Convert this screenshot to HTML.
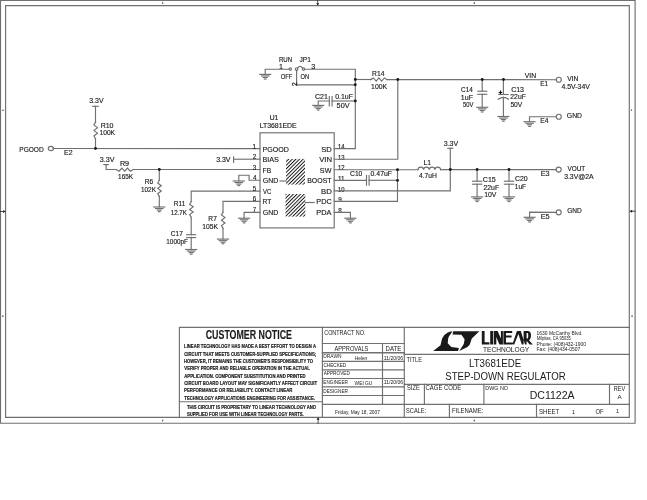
<!DOCTYPE html>
<html><head><meta charset="utf-8"><style>
html,body{margin:0;padding:0;background:#fff;}
svg{display:block;will-change:transform;}
text{font-family:"Liberation Sans",sans-serif;fill:#1a1a1a;stroke:#1a1a1a;stroke-width:0.25px;}
</style></head><body>
<svg width="647" height="500" viewBox="0 0 647 500">
<rect width="647" height="500" fill="#fff"/>
<g fill="none" stroke="#707070" stroke-width="1.15" stroke-linecap="square" stroke-linejoin="miter">
<polyline points="0.50,0.50 635.10,0.50 635.10,423.20 0.50,423.20 0.50,0.50"/>
<polyline points="5.60,5.60 629.30,5.60 629.30,417.30 5.60,417.30 5.60,5.60"/>
<g fill="#555" stroke="none">
<rect x="162" y="2.2" width="1.2" height="1.6"/>
<rect x="473.6" y="2.2" width="1.4" height="1.6"/>
<rect x="162" y="419.7" width="1.2" height="1.6"/>
<rect x="473.6" y="419.7" width="1.4" height="1.6"/>
<rect x="2.3" y="109.6" width="1.4" height="1.4"/>
<rect x="630.9" y="109.4" width="1.2" height="1.4"/>
<rect x="2.2" y="315.4" width="1.3" height="1.6"/>
<rect x="631.4" y="315.4" width="1.3" height="1.6"/>
</g>
<g fill="#1a1a1a" stroke="none">
<path d="M316.2,3.2 L319.2,3.2 L317.7,5.6 Z"/>
<path d="M316.6,419.7 L319.6,419.7 L318.1,417.3 Z"/>
<path d="M3.2,210 L3.2,213 L5.6,211.5 Z"/>
<path d="M632.2,209.7 L632.2,212.7 L629.6,211.2 Z"/>
</g>
<polyline points="317.70,0.50 317.70,4.50" stroke-width="0.8" stroke="#222"/>
<polyline points="318.10,423.20 318.10,419.00" stroke-width="0.8" stroke="#222"/>
<polyline points="0.50,211.50 4.00,211.50" stroke-width="0.8" stroke="#222"/>
<polyline points="635.10,211.20 631.00,211.20" stroke-width="0.8" stroke="#222"/>
<text x="19.26" y="151.65" font-size="7.20" textLength="24.45" lengthAdjust="spacingAndGlyphs" style="stroke-width:0.15px">PGOOD</text>
<ellipse cx="50.9" cy="148.5" rx="2.6" ry="2.1" fill="none"/>
<polyline points="53.10,148.50 260.00,148.60"/>
<text x="64.03" y="154.85" font-size="7.20" textLength="8.52" lengthAdjust="spacingAndGlyphs" style="stroke-width:0.15px">E2</text>
<text x="89.24" y="102.95" font-size="7.20" textLength="14.30" lengthAdjust="spacingAndGlyphs" style="stroke-width:0.15px">3.3V</text>
<polyline points="92.75,106.30 98.25,106.30"/>
<polyline points="95.50,106.30 95.50,122.10"/>
<polyline points="95.50,122.10 93.92,124.87 97.50,127.63 93.92,130.40 97.50,133.17 93.92,135.93 95.50,138.70"/>
<polyline points="95.50,138.70 95.50,148.50"/>
<text x="100.63" y="127.95" font-size="7.20" textLength="12.85" lengthAdjust="spacingAndGlyphs" style="stroke-width:0.15px">R10</text>
<text x="99.49" y="134.75" font-size="7.20" textLength="15.58" lengthAdjust="spacingAndGlyphs" style="stroke-width:0.15px">100K</text>
<text x="99.83" y="162.05" font-size="7.20" textLength="14.70" lengthAdjust="spacingAndGlyphs" style="stroke-width:0.15px">3.3V</text>
<polyline points="103.85,164.60 108.35,164.60"/>
<polyline points="106.10,164.60 106.10,169.50 116.20,169.50"/>
<polyline points="116.20,169.60 119.02,171.20 121.83,168.00 124.65,171.20 127.47,168.00 130.28,171.20 133.10,169.60"/>
<polyline points="133.10,169.50 260.00,169.50"/>
<text x="119.91" y="165.65" font-size="7.20" textLength="9.23" lengthAdjust="spacingAndGlyphs" style="stroke-width:0.15px">R9</text>
<text x="118.11" y="178.65" font-size="7.20" textLength="15.06" lengthAdjust="spacingAndGlyphs" style="stroke-width:0.15px">165K</text>
<polyline points="159.30,169.50 159.30,180.30"/>
<polyline points="159.30,180.30 157.72,182.98 161.30,185.67 157.72,188.35 161.30,191.03 157.72,193.72 159.30,196.40"/>
<polyline points="159.30,196.40 159.30,206.70"/>
<polyline points="153.80,207.00 164.80,207.00"/>
<polyline points="155.56,208.55 163.04,208.55"/>
<polyline points="157.32,210.10 161.28,210.10"/>
<polyline points="158.48,211.65 160.12,211.65"/>
<text x="144.66" y="184.25" font-size="7.20" textLength="8.43" lengthAdjust="spacingAndGlyphs" style="stroke-width:0.15px">R6</text>
<text x="141.01" y="191.65" font-size="7.20" textLength="14.96" lengthAdjust="spacingAndGlyphs" style="stroke-width:0.15px">102K</text>
<polyline points="260.00,191.10 191.20,191.10 191.20,201.70"/>
<polyline points="191.20,201.70 189.62,204.28 193.20,206.87 189.62,209.45 193.20,212.03 189.62,214.62 191.20,217.20"/>
<polyline points="191.20,217.20 191.20,234.70"/>
<polyline points="186.60,234.70 195.60,234.70"/>
<polyline points="186.60,237.60 195.60,237.60"/>
<polyline points="191.20,237.40 191.20,249.20"/>
<polyline points="185.70,249.50 196.70,249.50"/>
<polyline points="187.46,251.05 194.94,251.05"/>
<polyline points="189.22,252.60 193.18,252.60"/>
<polyline points="190.38,254.15 192.02,254.15"/>
<text x="173.78" y="206.35" font-size="7.20" textLength="11.52" lengthAdjust="spacingAndGlyphs" style="stroke-width:0.15px">R11</text>
<text x="170.73" y="214.95" font-size="7.20" textLength="16.14" lengthAdjust="spacingAndGlyphs" style="stroke-width:0.15px">12.7K</text>
<text x="170.87" y="236.05" font-size="7.20" textLength="12.06" lengthAdjust="spacingAndGlyphs" style="stroke-width:0.15px">C17</text>
<text x="166.31" y="244.05" font-size="7.20" textLength="21.75" lengthAdjust="spacingAndGlyphs" style="stroke-width:0.15px">1000pF</text>
<polyline points="260.00,201.30 223.00,201.30 223.00,212.20"/>
<polyline points="223.00,212.20 221.42,214.88 225.00,217.57 221.42,220.25 225.00,222.93 221.42,225.62 223.00,228.30"/>
<polyline points="223.00,228.30 223.00,238.80"/>
<polyline points="217.50,239.10 228.50,239.10"/>
<polyline points="219.26,240.65 226.74,240.65"/>
<polyline points="221.02,242.20 224.98,242.20"/>
<polyline points="222.18,243.75 223.82,243.75"/>
<text x="208.36" y="220.65" font-size="7.20" textLength="8.48" lengthAdjust="spacingAndGlyphs" style="stroke-width:0.15px">R7</text>
<text x="202.19" y="228.65" font-size="7.20" textLength="15.69" lengthAdjust="spacingAndGlyphs" style="stroke-width:0.15px">105K</text>
<text x="216.13" y="162.05" font-size="7.20" textLength="14.40" lengthAdjust="spacingAndGlyphs" style="stroke-width:0.15px">3.3V</text>
<polyline points="233.60,156.70 233.60,162.30"/>
<polyline points="233.60,159.20 260.00,159.20"/>
<polyline points="260.00,180.20 249.10,180.20 249.10,175.20 238.80,175.20 238.80,180.70"/>
<polyline points="233.30,181.00 244.30,181.00"/>
<polyline points="235.06,182.55 242.54,182.55"/>
<polyline points="236.82,184.10 240.78,184.10"/>
<polyline points="237.98,185.65 239.62,185.65"/>
<polyline points="260.00,212.30 244.10,212.30 244.10,217.90"/>
<polyline points="238.60,218.20 249.60,218.20"/>
<polyline points="240.36,219.75 247.84,219.75"/>
<polyline points="242.12,221.30 246.08,221.30"/>
<polyline points="243.28,222.85 244.92,222.85"/>
<text x="269.68" y="119.85" font-size="7.20" textLength="8.65" lengthAdjust="spacingAndGlyphs" style="stroke-width:0.15px">U1</text>
<text x="259.64" y="128.25" font-size="7.20" textLength="37.05" lengthAdjust="spacingAndGlyphs" style="stroke-width:0.15px">LT3681EDE</text>
<rect x="260.0" y="132.8" width="74.2" height="95.1" fill="none"/>
<text x="252.62" y="148.75" font-size="6.30" textLength="3.50" lengthAdjust="spacingAndGlyphs" style="stroke-width:0.15px">1</text>
<text x="262.52" y="151.75" font-size="7.70" textLength="26.32" lengthAdjust="spacingAndGlyphs" style="stroke-width:0.15px">PGOOD</text>
<text x="252.78" y="159.35" font-size="6.30" textLength="3.50" lengthAdjust="spacingAndGlyphs" style="stroke-width:0.15px">2</text>
<text x="262.51" y="162.35" font-size="7.70" textLength="16.42" lengthAdjust="spacingAndGlyphs" style="stroke-width:0.15px">BIAS</text>
<text x="252.86" y="169.75" font-size="6.30" textLength="3.50" lengthAdjust="spacingAndGlyphs" style="stroke-width:0.15px">3</text>
<text x="262.55" y="172.75" font-size="7.70" textLength="8.61" lengthAdjust="spacingAndGlyphs" style="stroke-width:0.15px">FB</text>
<text x="252.96" y="180.35" font-size="6.30" textLength="3.50" lengthAdjust="spacingAndGlyphs" style="stroke-width:0.15px">4</text>
<text x="262.75" y="183.35" font-size="7.70" textLength="15.59" lengthAdjust="spacingAndGlyphs" style="stroke-width:0.15px">GND</text>
<text x="252.85" y="191.25" font-size="6.30" textLength="3.50" lengthAdjust="spacingAndGlyphs" style="stroke-width:0.15px">5</text>
<text x="263.07" y="194.25" font-size="7.70" textLength="8.25" lengthAdjust="spacingAndGlyphs" style="stroke-width:0.15px">VC</text>
<text x="252.78" y="201.45" font-size="6.30" textLength="3.50" lengthAdjust="spacingAndGlyphs" style="stroke-width:0.15px">6</text>
<text x="262.57" y="204.45" font-size="7.70" textLength="8.68" lengthAdjust="spacingAndGlyphs" style="stroke-width:0.15px">RT</text>
<text x="252.78" y="212.45" font-size="6.30" textLength="3.50" lengthAdjust="spacingAndGlyphs" style="stroke-width:0.15px">7</text>
<text x="262.75" y="215.45" font-size="7.70" textLength="15.59" lengthAdjust="spacingAndGlyphs" style="stroke-width:0.15px">GND</text>
<text x="338.05" y="149.15" font-size="6.30" textLength="6.52" lengthAdjust="spacingAndGlyphs" style="stroke-width:0.15px">14</text>
<text x="321.26" y="151.75" font-size="7.70" textLength="10.51" lengthAdjust="spacingAndGlyphs" style="stroke-width:0.15px">SD</text>
<text x="338.05" y="159.75" font-size="6.30" textLength="6.61" lengthAdjust="spacingAndGlyphs" style="stroke-width:0.15px">13</text>
<text x="319.17" y="162.35" font-size="7.70" textLength="12.86" lengthAdjust="spacingAndGlyphs" style="stroke-width:0.15px">VIN</text>
<text x="338.04" y="170.15" font-size="6.30" textLength="6.66" lengthAdjust="spacingAndGlyphs" style="stroke-width:0.15px">12</text>
<text x="319.87" y="172.75" font-size="7.70" textLength="11.55" lengthAdjust="spacingAndGlyphs" style="stroke-width:0.15px">SW</text>
<text x="338.04" y="180.75" font-size="6.30" textLength="6.65" lengthAdjust="spacingAndGlyphs" style="stroke-width:0.15px">11</text>
<text x="307.23" y="183.35" font-size="7.70" textLength="24.33" lengthAdjust="spacingAndGlyphs" style="stroke-width:0.15px">BOOST</text>
<text x="338.05" y="191.65" font-size="6.30" textLength="6.58" lengthAdjust="spacingAndGlyphs" style="stroke-width:0.15px">10</text>
<text x="320.96" y="194.25" font-size="7.70" textLength="10.81" lengthAdjust="spacingAndGlyphs" style="stroke-width:0.15px">BD</text>
<text x="338.20" y="201.85" font-size="6.30" textLength="3.50" lengthAdjust="spacingAndGlyphs" style="stroke-width:0.15px">9</text>
<text x="316.30" y="204.45" font-size="7.70" textLength="15.37" lengthAdjust="spacingAndGlyphs" style="stroke-width:0.15px">PDC</text>
<text x="338.23" y="212.85" font-size="6.30" textLength="3.50" lengthAdjust="spacingAndGlyphs" style="stroke-width:0.15px">8</text>
<text x="316.30" y="215.45" font-size="7.70" textLength="15.12" lengthAdjust="spacingAndGlyphs" style="stroke-width:0.15px">PDA</text>
<defs><pattern id="h" patternUnits="userSpaceOnUse" width="2.55" height="2.55" patternTransform="rotate(45)"><rect x="0" y="0" width="0.95" height="2.55" fill="#111" stroke="none"/></pattern></defs>
<rect x="286.1" y="158.9" width="18.9" height="25.7" fill="url(#h)" stroke="none"/>
<rect x="285.5" y="194.0" width="19.8" height="22.6" fill="url(#h)" stroke="none"/>
<polyline points="280.00,181.00 286.10,181.00"/>
<polyline points="305.30,202.50 314.20,202.50"/>
<polyline points="334.20,212.30 350.40,212.30 350.40,217.90"/>
<polyline points="344.90,218.20 355.90,218.20"/>
<polyline points="346.66,219.75 354.14,219.75"/>
<polyline points="348.42,221.30 352.38,221.30"/>
<polyline points="349.57,222.85 351.22,222.85"/>
<polyline points="334.20,148.60 355.30,148.60 355.30,69.20 304.70,69.20"/>
<polyline points="259.70,74.40 270.70,74.40"/>
<polyline points="261.46,75.95 268.94,75.95"/>
<polyline points="263.22,77.50 267.18,77.50"/>
<polyline points="264.38,79.05 266.02,79.05"/>
<polyline points="265.20,74.10 265.20,69.20 289.10,69.20"/>
<circle cx="290.3" cy="69.1" r="1.2" fill="none"/>
<circle cx="296.6" cy="69.1" r="1.3" fill="none"/>
<circle cx="303.5" cy="69.1" r="1.2" fill="none"/>
<path d="M297.7,67.9 Q300.0,64.8 302.4,67.9" fill="none"/>
<polyline points="296.60,70.40 296.60,84.80 355.30,84.80"/>
<text x="278.90" y="61.65" font-size="7.20" textLength="13.30" lengthAdjust="spacingAndGlyphs" style="stroke-width:0.15px">RUN</text>
<text x="299.40" y="61.65" font-size="7.20" textLength="11.43" lengthAdjust="spacingAndGlyphs" style="stroke-width:0.15px">JP1</text>
<text x="279.05" y="68.65" font-size="7.20" textLength="4.00" lengthAdjust="spacingAndGlyphs" style="stroke-width:0.15px">1</text>
<text x="311.23" y="69.15" font-size="7.20" textLength="4.00" lengthAdjust="spacingAndGlyphs" style="stroke-width:0.15px">3</text>
<text x="280.72" y="78.65" font-size="7.20" textLength="11.71" lengthAdjust="spacingAndGlyphs" style="stroke-width:0.15px">OFF</text>
<text x="300.43" y="78.65" font-size="7.20" textLength="8.64" lengthAdjust="spacingAndGlyphs" style="stroke-width:0.15px">ON</text>
<text transform="translate(297.2,86.0) rotate(-90)" font-size="6.8">2</text>
<polyline points="355.30,101.00 332.10,101.00"/>
<polyline points="329.30,96.65 329.30,105.95"/>
<polyline points="332.10,96.65 332.10,105.95"/>
<polyline points="329.30,101.00 318.20,101.00 318.20,105.10"/>
<polyline points="312.70,105.40 323.70,105.40"/>
<polyline points="314.46,106.95 321.94,106.95"/>
<polyline points="316.22,108.50 320.18,108.50"/>
<polyline points="317.38,110.05 319.02,110.05"/>
<text x="315.04" y="99.15" font-size="7.20" textLength="12.90" lengthAdjust="spacingAndGlyphs" style="stroke-width:0.15px">C21</text>
<text x="335.13" y="99.15" font-size="7.20" textLength="17.85" lengthAdjust="spacingAndGlyphs" style="stroke-width:0.15px">0.1uF</text>
<text x="336.61" y="108.45" font-size="7.20" textLength="12.92" lengthAdjust="spacingAndGlyphs" style="stroke-width:0.15px">50V</text>
<polyline points="355.30,79.50 371.40,79.50"/>
<polyline points="370.70,79.60 373.43,78.00 376.17,81.20 378.90,78.00 381.63,81.20 384.37,78.00 387.10,79.60"/>
<polyline points="387.20,79.60 556.30,79.70"/>
<text x="372.05" y="75.95" font-size="7.20" textLength="12.35" lengthAdjust="spacingAndGlyphs" style="stroke-width:0.15px">R14</text>
<text x="371.08" y="88.95" font-size="7.20" textLength="16.00" lengthAdjust="spacingAndGlyphs" style="stroke-width:0.15px">100K</text>
<polyline points="397.80,79.50 397.80,159.20 334.20,159.20"/>
<polyline points="482.20,79.50 482.20,91.20"/>
<polyline points="477.85,91.20 486.75,91.20"/>
<polyline points="477.85,94.30 486.75,94.30"/>
<polyline points="482.20,94.30 482.20,107.00"/>
<polyline points="476.70,107.30 487.70,107.30"/>
<polyline points="478.46,108.85 485.94,108.85"/>
<polyline points="480.22,110.40 484.18,110.40"/>
<polyline points="481.38,111.95 483.02,111.95"/>
<text x="461.07" y="91.75" font-size="7.20" textLength="11.82" lengthAdjust="spacingAndGlyphs" style="stroke-width:0.15px">C14</text>
<text x="460.86" y="99.55" font-size="7.20" textLength="12.12" lengthAdjust="spacingAndGlyphs" style="stroke-width:0.15px">1uF</text>
<text x="462.97" y="106.65" font-size="7.20" textLength="10.36" lengthAdjust="spacingAndGlyphs" style="stroke-width:0.15px">50V</text>
<polyline points="503.40,79.50 503.40,94.50"/>
<polyline points="498.80,94.50 508.20,94.50"/>
<path d="M498.1,99.2 Q503.4,95.6 508.5,99.3" fill="none"/>
<polyline points="503.40,97.40 503.40,116.20"/>
<polyline points="497.90,116.50 508.90,116.50"/>
<polyline points="499.66,118.05 507.14,118.05"/>
<polyline points="501.42,119.60 505.38,119.60"/>
<polyline points="502.57,121.15 504.22,121.15"/>
<path d="M498.6,92.5 L502.2,92.5 M500.5,90.6 L500.5,94.3" stroke="#111" stroke-width="1.2" stroke-linecap="butt"/>
<text x="511.14" y="91.75" font-size="7.20" textLength="12.86" lengthAdjust="spacingAndGlyphs" style="stroke-width:0.15px">C13</text>
<text x="510.36" y="99.15" font-size="7.20" textLength="15.41" lengthAdjust="spacingAndGlyphs" style="stroke-width:0.15px">22uF</text>
<text x="510.43" y="106.65" font-size="7.20" textLength="11.79" lengthAdjust="spacingAndGlyphs" style="stroke-width:0.15px">50V</text>
<text x="524.77" y="77.85" font-size="7.20" textLength="11.39" lengthAdjust="spacingAndGlyphs" style="stroke-width:0.15px">VIN</text>
<text x="540.27" y="85.95" font-size="7.20" textLength="7.84" lengthAdjust="spacingAndGlyphs" style="stroke-width:0.15px">E1</text>
<circle cx="558.8" cy="79.7" r="2.5" fill="none"/>
<text x="567.17" y="80.95" font-size="7.20" textLength="11.18" lengthAdjust="spacingAndGlyphs" style="stroke-width:0.15px">VIN</text>
<text x="561.44" y="89.35" font-size="7.20" textLength="28.49" lengthAdjust="spacingAndGlyphs" style="stroke-width:0.15px">4.5V-34V</text>
<polyline points="529.50,121.40 529.50,116.70 556.30,116.70"/>
<polyline points="524.00,121.70 535.00,121.70"/>
<polyline points="525.76,123.25 533.24,123.25"/>
<polyline points="527.52,124.80 531.48,124.80"/>
<polyline points="528.67,126.35 530.33,126.35"/>
<text x="540.25" y="122.75" font-size="7.20" textLength="8.14" lengthAdjust="spacingAndGlyphs" style="stroke-width:0.15px">E4</text>
<circle cx="558.8" cy="116.7" r="2.5" fill="none"/>
<text x="566.86" y="118.05" font-size="7.20" textLength="15.07" lengthAdjust="spacingAndGlyphs" style="stroke-width:0.15px">GND</text>
<polyline points="334.20,169.70 417.90,169.70"/>
<path d="M417.90,169.70 C418.18,166.32 423.29,166.32 423.57,169.70 C423.86,166.32 428.97,166.32 429.25,169.70 C429.53,166.32 434.64,166.32 434.93,169.70 C435.21,166.32 440.32,166.32 440.60,169.70" fill="none"/>
<polyline points="440.60,169.60 556.20,169.60"/>
<polyline points="334.20,180.30 366.50,180.30"/>
<polyline points="366.50,175.45 366.50,185.15"/>
<polyline points="369.10,175.45 369.10,185.15"/>
<polyline points="369.10,180.30 397.50,180.30"/>
<polyline points="397.50,169.70 397.50,201.30 334.20,201.30"/>
<text x="350.06" y="176.35" font-size="7.20" textLength="12.30" lengthAdjust="spacingAndGlyphs" style="stroke-width:0.15px">C10</text>
<text x="370.53" y="176.35" font-size="7.20" textLength="21.55" lengthAdjust="spacingAndGlyphs" style="stroke-width:0.15px">0.47uF</text>
<text x="423.54" y="165.25" font-size="7.20" textLength="7.59" lengthAdjust="spacingAndGlyphs" style="stroke-width:0.15px">L1</text>
<text x="418.95" y="178.25" font-size="7.20" textLength="17.90" lengthAdjust="spacingAndGlyphs" style="stroke-width:0.15px">4.7uH</text>
<polyline points="334.20,190.80 450.30,190.80 450.30,148.30"/>
<polyline points="447.80,148.30 452.80,148.30"/>
<text x="443.73" y="146.05" font-size="7.20" textLength="14.50" lengthAdjust="spacingAndGlyphs" style="stroke-width:0.15px">3.3V</text>
<polyline points="477.10,169.50 477.10,181.20"/>
<polyline points="472.50,181.20 481.70,181.20"/>
<polyline points="472.50,184.20 481.70,184.20"/>
<polyline points="477.10,184.20 477.10,196.60"/>
<polyline points="471.60,196.90 482.60,196.90"/>
<polyline points="473.36,198.45 480.84,198.45"/>
<polyline points="475.12,200.00 479.08,200.00"/>
<polyline points="476.28,201.55 477.93,201.55"/>
<polyline points="509.00,169.50 509.00,181.20"/>
<polyline points="504.40,181.20 513.60,181.20"/>
<polyline points="504.40,184.20 513.60,184.20"/>
<polyline points="509.00,184.20 509.00,196.60"/>
<polyline points="503.50,196.90 514.50,196.90"/>
<polyline points="505.26,198.45 512.74,198.45"/>
<polyline points="507.02,200.00 510.98,200.00"/>
<polyline points="508.18,201.55 509.82,201.55"/>
<text x="482.84" y="182.35" font-size="7.20" textLength="12.96" lengthAdjust="spacingAndGlyphs" style="stroke-width:0.15px">C15</text>
<text x="483.46" y="189.75" font-size="7.20" textLength="15.62" lengthAdjust="spacingAndGlyphs" style="stroke-width:0.15px">22uF</text>
<text x="484.18" y="197.15" font-size="7.20" textLength="12.25" lengthAdjust="spacingAndGlyphs" style="stroke-width:0.15px">10V</text>
<text x="514.95" y="181.35" font-size="7.20" textLength="12.72" lengthAdjust="spacingAndGlyphs" style="stroke-width:0.15px">C20</text>
<text x="514.80" y="188.85" font-size="7.20" textLength="11.26" lengthAdjust="spacingAndGlyphs" style="stroke-width:0.15px">1uF</text>
<text x="540.70" y="175.85" font-size="7.20" textLength="8.92" lengthAdjust="spacingAndGlyphs" style="stroke-width:0.15px">E3</text>
<circle cx="558.7" cy="169.6" r="2.5" fill="none"/>
<text x="567.47" y="170.95" font-size="7.20" textLength="17.77" lengthAdjust="spacingAndGlyphs" style="stroke-width:0.15px">VOUT</text>
<text x="564.14" y="179.35" font-size="7.20" textLength="29.47" lengthAdjust="spacingAndGlyphs" style="stroke-width:0.15px">3.3V@2A</text>
<polyline points="529.60,217.00 529.60,212.20 556.20,212.30"/>
<polyline points="524.10,217.30 535.10,217.30"/>
<polyline points="525.86,218.85 533.34,218.85"/>
<polyline points="527.62,220.40 531.58,220.40"/>
<polyline points="528.77,221.95 530.43,221.95"/>
<text x="540.70" y="218.55" font-size="7.20" textLength="8.90" lengthAdjust="spacingAndGlyphs" style="stroke-width:0.15px">E5</text>
<circle cx="558.7" cy="212.3" r="2.5" fill="none"/>
<text x="567.17" y="213.15" font-size="7.20" textLength="14.54" lengthAdjust="spacingAndGlyphs" style="stroke-width:0.15px">GND</text>
<polyline points="179.40,417.30 179.40,327.40 629.30,327.40"/>
<polyline points="322.40,327.40 322.40,417.30"/>
<polyline points="404.30,327.40 404.30,417.30"/>
<polyline points="179.40,401.70 322.40,401.70"/>
<polyline points="322.40,343.50 404.30,343.50"/>
<polyline points="322.40,352.80 404.30,352.80" stroke-width="1.4"/>
<polyline points="322.40,361.40 404.30,361.40"/>
<polyline points="322.40,369.90 404.30,369.90"/>
<polyline points="322.40,378.50 404.30,378.50"/>
<polyline points="322.40,386.80 404.30,386.80"/>
<polyline points="322.40,395.50 404.30,395.50"/>
<polyline points="322.40,404.30 404.30,404.30"/>
<polyline points="382.50,343.50 382.50,404.30"/>
<polyline points="404.30,354.30 629.30,354.30"/>
<polyline points="404.30,384.30 629.30,384.30"/>
<polyline points="404.30,404.30 629.30,404.30"/>
<polyline points="424.40,384.30 424.40,404.30"/>
<polyline points="483.90,384.30 483.90,404.30"/>
<polyline points="609.50,384.30 609.50,404.30"/>
<polyline points="449.40,404.30 449.40,417.30"/>
<polyline points="536.50,404.30 536.50,417.30"/>
<text x="205.74" y="338.95" font-size="11.92" textLength="86.21" lengthAdjust="spacingAndGlyphs" font-weight="bold" style="stroke-width:0.15px">CUSTOMER NOTICE</text>
<text x="184.12" y="348.25" font-size="5.81" textLength="131.79" lengthAdjust="spacingAndGlyphs" font-weight="bold" style="stroke-width:0.2px">LINEAR TECHNOLOGY HAS MADE A BEST EFFORT TO DESIGN A</text>
<text x="184.23" y="355.65" font-size="5.81" textLength="131.98" lengthAdjust="spacingAndGlyphs" font-weight="bold" style="stroke-width:0.2px">CIRCUIT THAT MEETS CUSTOMER-SUPPLIED SPECIFICATIONS;</text>
<text x="184.12" y="363.05" font-size="5.81" textLength="128.85" lengthAdjust="spacingAndGlyphs" font-weight="bold" style="stroke-width:0.2px">HOWEVER, IT REMAINS THE CUSTOMER'S RESPONSIBILITY TO</text>
<text x="184.37" y="370.25" font-size="5.81" textLength="125.46" lengthAdjust="spacingAndGlyphs" font-weight="bold" style="stroke-width:0.2px">VERIFY PROPER AND RELIABLE OPERATION IN THE ACTUAL</text>
<text x="184.30" y="377.85" font-size="5.81" textLength="121.28" lengthAdjust="spacingAndGlyphs" font-weight="bold" style="stroke-width:0.2px">APPLICATION.  COMPONENT SUBSTITUTION AND PRINTED</text>
<text x="184.23" y="385.05" font-size="5.81" textLength="132.92" lengthAdjust="spacingAndGlyphs" font-weight="bold" style="stroke-width:0.2px">CIRCUIT BOARD LAYOUT MAY SIGNIFICANTLY AFFECT CIRCUIT</text>
<text x="184.12" y="392.05" font-size="5.81" textLength="108.27" lengthAdjust="spacingAndGlyphs" font-weight="bold" style="stroke-width:0.2px">PERFORMANCE OR RELIABILITY.  CONTACT LINEAR</text>
<text x="184.35" y="399.55" font-size="5.81" textLength="130.53" lengthAdjust="spacingAndGlyphs" font-weight="bold" style="stroke-width:0.2px">TECHNOLOGY APPLICATIONS ENGINEERING FOR ASSISTANCE.</text>
<text x="186.95" y="408.55" font-size="5.96" textLength="129.02" lengthAdjust="spacingAndGlyphs" font-weight="bold" style="stroke-width:0.2px">THIS CIRCUIT IS PROPRIETARY TO LINEAR TECHNOLOGY AND</text>
<text x="186.88" y="415.95" font-size="5.96" textLength="116.91" lengthAdjust="spacingAndGlyphs" font-weight="bold" style="stroke-width:0.2px">SUPPLIED FOR USE WITH LINEAR TECHNOLOGY PARTS.</text>
<text x="324.22" y="334.65" font-size="7.27" textLength="41.27" lengthAdjust="spacingAndGlyphs" style="stroke-width:0.0px">CONTRACT NO.</text>
<text x="334.49" y="350.55" font-size="6.69" textLength="33.87" lengthAdjust="spacingAndGlyphs" style="stroke-width:0.0px">APPROVALS</text>
<text x="385.52" y="350.55" font-size="6.69" textLength="15.74" lengthAdjust="spacingAndGlyphs" style="stroke-width:0.0px">DATE</text>
<text x="323.31" y="358.25" font-size="5.52" textLength="18.19" lengthAdjust="spacingAndGlyphs" style="stroke-width:0.0px">DRAWN</text>
<text x="354.70" y="359.55" font-size="5.81" textLength="12.61" lengthAdjust="spacingAndGlyphs" style="stroke-width:0.0px">Helen</text>
<text x="383.82" y="359.65" font-size="5.23" textLength="19.30" lengthAdjust="spacingAndGlyphs" style="stroke-width:0.0px">11/20/06</text>
<text x="323.46" y="366.55" font-size="5.23" textLength="22.76" lengthAdjust="spacingAndGlyphs" style="stroke-width:0.0px">CHECKED</text>
<text x="323.69" y="375.15" font-size="5.38" textLength="26.13" lengthAdjust="spacingAndGlyphs" style="stroke-width:0.0px">APPROVED</text>
<text x="323.31" y="384.25" font-size="5.81" textLength="24.71" lengthAdjust="spacingAndGlyphs" style="stroke-width:0.0px">ENGINEER</text>
<text x="354.58" y="384.85" font-size="5.67" textLength="17.80" lengthAdjust="spacingAndGlyphs" style="stroke-width:0.0px">WEI GU</text>
<text x="383.82" y="384.45" font-size="5.23" textLength="19.30" lengthAdjust="spacingAndGlyphs" style="stroke-width:0.0px">11/20/06</text>
<text x="323.31" y="392.55" font-size="5.81" textLength="24.71" lengthAdjust="spacingAndGlyphs" style="stroke-width:0.0px">DESIGNER</text>
<text x="334.91" y="413.65" font-size="5.96" textLength="45.03" lengthAdjust="spacingAndGlyphs" style="stroke-width:0.0px">Friday, May 18, 2007</text>
<path fill="#1a1a1a" stroke="none" d="M433.2,350.9 L440.5,345.3 L442.1,338.5 Q444,334.5 447.3,332.8 Q449.5,331.4 452.5,331.2 L450.5,334.2 Q448.6,336.2 448.2,338.2 L447.7,343.3 L451.3,347.1 L458.9,348.1 L458.1,350.9 Z"/>
<path fill="#1a1a1a" stroke="none" d="M453.3,331.2 L479.4,331.2 L471.8,338.5 L469.8,344.5 Q468,347 465.4,348.1 L459.3,350.9 L463.8,344.1 L464.6,339.3 L461.4,334.8 L452.5,334.6 Z"/>
<path fill="#1a1a1a" stroke="none" fill-rule="evenodd" d="M481.8,330.9 H484.6 V342.3 H489.4 V344.6 H481.8 Z M490.2,330.9 H493.0 V344.6 H490.2 Z M493.7,330.9 L497.6,330.9 L500.9,338.6 L500.9,330.9 L502.9,330.9 L502.9,344.6 L499.4,344.6 L496.3,337.0 L496.3,344.6 L493.7,344.6 Z M503.4,330.9 L512.2,330.9 L512.2,332.9 L506.0,332.9 L506.0,335.6 L511.6,335.6 L511.6,337.6 L506.0,337.6 L506.0,342.5 L512.8,342.5 L512.8,344.6 L503.4,344.6 Z M512.4,344.6 L516.9,330.9 L520.8,330.9 L525.0,344.6 L521.8,344.6 L518.4,334.0 L514.2,344.6 Z M523.6,330.9 L528.2,330.9 Q531.0,331.2 531.0,335.6 Q530.8,339.4 529.0,340.2 L532.8,344.6 L529.6,344.6 L526.6,340.8 L526.6,344.6 L523.6,344.6 Z M526.6,333.0 L527.6,333.0 Q528.3,333.2 528.3,335.8 Q528.2,338.6 527.4,338.6 L526.6,338.6 Z"/>
<text x="482.95" y="351.85" font-size="7.12" textLength="46.29" lengthAdjust="spacingAndGlyphs" style="stroke-width:0.0px">TECHNOLOGY</text>
<text x="536.62" y="335.45" font-size="4.94" textLength="45.93" lengthAdjust="spacingAndGlyphs" style="stroke-width:0.0px">1630 McCarthy Blvd.</text>
<text x="536.67" y="340.35" font-size="4.94" textLength="34.21" lengthAdjust="spacingAndGlyphs" style="stroke-width:0.0px">Milpitas, CA 95035</text>
<text x="536.60" y="345.65" font-size="4.94" textLength="49.40" lengthAdjust="spacingAndGlyphs" style="stroke-width:0.0px">Phone: (408)432-1900</text>
<text x="536.59" y="350.85" font-size="4.94" textLength="43.76" lengthAdjust="spacingAndGlyphs" style="stroke-width:0.0px">Fax: (408)434-0507</text>
<text x="406.57" y="362.05" font-size="6.98" textLength="15.37" lengthAdjust="spacingAndGlyphs" style="stroke-width:0.0px">TITLE</text>
<text x="469.01" y="366.95" font-size="10.32" textLength="52.20" lengthAdjust="spacingAndGlyphs" style="stroke-width:0.0px">LT3681EDE</text>
<text x="445.27" y="379.65" font-size="11.05" textLength="120.48" lengthAdjust="spacingAndGlyphs" style="stroke-width:0.0px">STEP-DOWN REGULATOR</text>
<text x="406.94" y="390.15" font-size="6.69" textLength="12.81" lengthAdjust="spacingAndGlyphs" style="stroke-width:0.0px">SIZE</text>
<text x="425.50" y="390.15" font-size="6.69" textLength="35.76" lengthAdjust="spacingAndGlyphs" style="stroke-width:0.0px">CAGE CODE</text>
<text x="485.26" y="390.15" font-size="6.10" textLength="22.70" lengthAdjust="spacingAndGlyphs" style="stroke-width:0.0px">DWG NO</text>
<text x="529.65" y="399.05" font-size="11.05" textLength="44.97" lengthAdjust="spacingAndGlyphs" style="stroke-width:0.0px">DC1122A</text>
<text x="613.64" y="390.65" font-size="6.83" textLength="11.48" lengthAdjust="spacingAndGlyphs" style="stroke-width:0.0px">REV</text>
<text x="617.49" y="398.75" font-size="6.25" textLength="4.17" lengthAdjust="spacingAndGlyphs" style="stroke-width:0.0px">A</text>
<text x="406.04" y="413.35" font-size="7.41" textLength="20.18" lengthAdjust="spacingAndGlyphs" style="stroke-width:0.0px">SCALE:</text>
<text x="451.91" y="413.05" font-size="6.83" textLength="31.54" lengthAdjust="spacingAndGlyphs" style="stroke-width:0.0px">FILENAME:</text>
<text x="539.02" y="413.75" font-size="6.69" textLength="20.21" lengthAdjust="spacingAndGlyphs" style="stroke-width:0.0px">SHEET</text>
<text x="572.07" y="414.05" font-size="5.60" textLength="3.11" lengthAdjust="spacingAndGlyphs" style="stroke-width:0.0px">1</text>
<text x="595.52" y="414.25" font-size="6.69" textLength="8.22" lengthAdjust="spacingAndGlyphs" style="stroke-width:0.0px">OF</text>
<text x="616.07" y="413.45" font-size="5.60" textLength="3.11" lengthAdjust="spacingAndGlyphs" style="stroke-width:0.0px">1</text>
<circle cx="95.5" cy="148.5" r="1.45" fill="#1a1a1a" stroke="none"/>
<circle cx="159.3" cy="169.5" r="1.45" fill="#1a1a1a" stroke="none"/>
<circle cx="355.3" cy="79.5" r="1.45" fill="#1a1a1a" stroke="none"/>
<circle cx="355.3" cy="84.8" r="1.45" fill="#1a1a1a" stroke="none"/>
<circle cx="355.3" cy="101.0" r="1.45" fill="#1a1a1a" stroke="none"/>
<circle cx="397.8" cy="79.5" r="1.45" fill="#1a1a1a" stroke="none"/>
<circle cx="482.2" cy="79.5" r="1.45" fill="#1a1a1a" stroke="none"/>
<circle cx="503.5" cy="79.5" r="1.45" fill="#1a1a1a" stroke="none"/>
<circle cx="397.5" cy="169.7" r="1.45" fill="#1a1a1a" stroke="none"/>
<circle cx="397.5" cy="180.4" r="1.45" fill="#1a1a1a" stroke="none"/>
<circle cx="450.3" cy="169.5" r="1.45" fill="#1a1a1a" stroke="none"/>
<circle cx="477.1" cy="169.5" r="1.45" fill="#1a1a1a" stroke="none"/>
<circle cx="509.0" cy="169.5" r="1.45" fill="#1a1a1a" stroke="none"/>
</g>
</svg>
</body></html>
